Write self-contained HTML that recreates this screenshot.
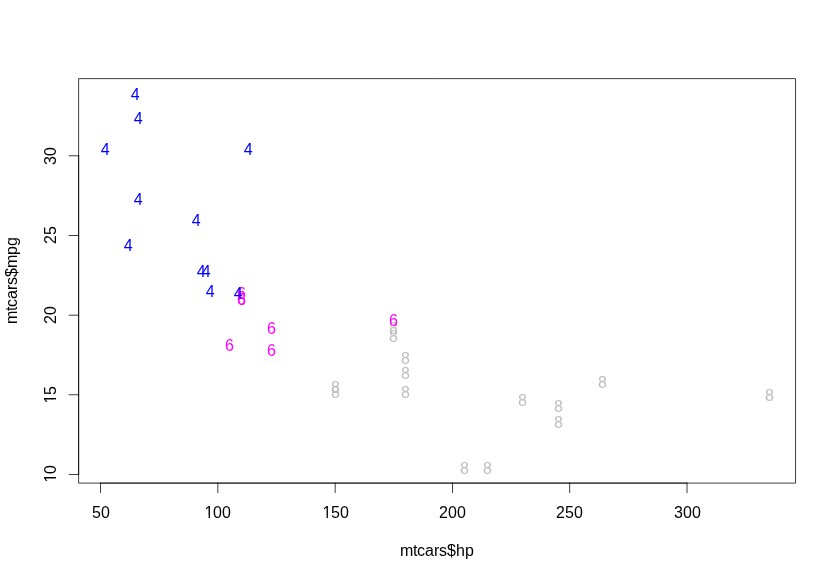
<!DOCTYPE html>
<html><head><meta charset="utf-8"><title>mtcars plot</title>
<style>html,body{margin:0;padding:0;background:#fff;overflow:hidden}svg{display:block;will-change:transform}svg text{white-space:pre}</style></head>
<body>
<svg width="836" height="581" viewBox="0 0 836 581">
<defs><clipPath id="nofoot"><path clip-rule="evenodd" d="M-6 -22H48V9H-6ZM0.519 -2.195H4.523V1.3H0.519Z M5.938 -2.195H9.317V1.3H5.938Z"/></clipPath></defs>
<rect width="836" height="581" fill="#fff"/>
<g font-family="'Liberation Sans', Arial, Helvetica, sans-serif" font-size="16px">
<text transform="translate(237 305)" x="0" y="0" fill="#FF00FF">6</text>
<text transform="translate(237 305)" x="0" y="0" fill="#FF00FF">6</text>
<text transform="translate(196.75 277)" x="0" y="0" fill="#0000FF">4</text>
<text transform="translate(237 299)" x="0" y="0" fill="#FF00FF">6</text>
<text transform="translate(389 342)" x="0" y="0" fill="#BEBEBE">8</text>
<text transform="translate(225 351)" x="0" y="0" fill="#FF00FF">6</text>
<text transform="translate(554 412)" x="0" y="0" fill="#BEBEBE">8</text>
<text transform="translate(123.75 251)" x="0" y="0" fill="#0000FF">4</text>
<text transform="translate(201.75 277)" x="0" y="0" fill="#0000FF">4</text>
<text transform="translate(267 334)" x="0" y="0" fill="#FF00FF">6</text>
<text transform="translate(267 356)" x="0" y="0" fill="#FF00FF">6</text>
<text transform="translate(401 379)" x="0" y="0" fill="#BEBEBE">8</text>
<text transform="translate(401 364)" x="0" y="0" fill="#BEBEBE">8</text>
<text transform="translate(401 398)" x="0" y="0" fill="#BEBEBE">8</text>
<text transform="translate(460 474)" x="0" y="0" fill="#BEBEBE">8</text>
<text transform="translate(483 474)" x="0" y="0" fill="#BEBEBE">8</text>
<text transform="translate(518 406)" x="0" y="0" fill="#BEBEBE">8</text>
<text transform="translate(133.75 124)" x="0" y="0" fill="#0000FF">4</text>
<text transform="translate(100.75 155)" x="0" y="0" fill="#0000FF">4</text>
<text transform="translate(130.75 100)" x="0" y="0" fill="#0000FF">4</text>
<text transform="translate(205.75 297)" x="0" y="0" fill="#0000FF">4</text>
<text transform="translate(331 393)" x="0" y="0" fill="#BEBEBE">8</text>
<text transform="translate(331 398)" x="0" y="0" fill="#BEBEBE">8</text>
<text transform="translate(554 428)" x="0" y="0" fill="#BEBEBE">8</text>
<text transform="translate(389 334)" x="0" y="0" fill="#BEBEBE">8</text>
<text transform="translate(133.75 205)" x="0" y="0" fill="#0000FF">4</text>
<text transform="translate(191.75 226)" x="0" y="0" fill="#0000FF">4</text>
<text transform="translate(243.75 155)" x="0" y="0" fill="#0000FF">4</text>
<text transform="translate(598 388)" x="0" y="0" fill="#BEBEBE">8</text>
<text transform="translate(389 326)" x="0" y="0" fill="#FF00FF">6</text>
<text transform="translate(765 401)" x="0" y="0" fill="#BEBEBE">8</text>
<text transform="translate(233.75 299)" x="0" y="0" fill="#0000FF">4</text>
<g stroke="#000" stroke-width="0.75" fill="none" stroke-linecap="round" stroke-linejoin="round">
<path d="M100.58 483.107H687.02"/>
<path d="M100.500 483.08v9.6"/>
<path d="M217.828 483.08v9.6"/>
<path d="M335.212 483.08v9.6"/>
<path d="M452.500 483.08v9.6"/>
<path d="M569.648 483.08v9.6"/>
<path d="M687.032 483.08v9.6"/>
<path d="M78.627 474.48V155.83"/>
<path d="M78.72 474.500h-9.6"/>
<path d="M78.72 394.754h-9.6"/>
<path d="M78.72 315.206h-9.6"/>
<path d="M78.72 235.500h-9.6"/>
<path d="M78.72 155.776h-9.6"/>
<path stroke-linecap="butt" d="M437.20 78.627H795.573V483.107H78.627V78.627H437.20"/>
</g>
<text transform="translate(92 518)" x="0 9" y="0" fill="#000">50</text>
<text transform="translate(204 518)" x="0.5 9 18" y="0" fill="#000" clip-path="url(#nofoot)">100</text>
<text transform="translate(322 518)" x="0.5 9 18" y="0" fill="#000" clip-path="url(#nofoot)">150</text>
<text transform="translate(439 518)" x="0 9 18" y="0" fill="#000">200</text>
<text transform="translate(556 518)" x="0 9 18" y="0" fill="#000">250</text>
<text transform="translate(674 518)" x="0 9 18" y="0" fill="#000">300</text>
<text transform="translate(56 483) rotate(-90)" x="0.5 9" y="0" fill="#000" clip-path="url(#nofoot)">10</text>
<text transform="translate(56 404) rotate(-90)" x="0.5 9" y="0" fill="#000" clip-path="url(#nofoot)">15</text>
<text transform="translate(56 324) rotate(-90)" x="0 9" y="0" fill="#000">20</text>
<text transform="translate(56 244) rotate(-90)" x="0 9" y="0" fill="#000">25</text>
<text transform="translate(56 165) rotate(-90)" x="0 9" y="0" fill="#000">30</text>
<text transform="translate(400 556)" x="0 13 17 25 34 39 47 56 65" y="0" fill="#000">mtcars$hp</text>
<text transform="translate(17 324) rotate(-90)" x="0 13 17 25 34 39 47 56 69 78" y="0" fill="#000">mtcars$mpg</text>
</g></svg>
</body></html>
